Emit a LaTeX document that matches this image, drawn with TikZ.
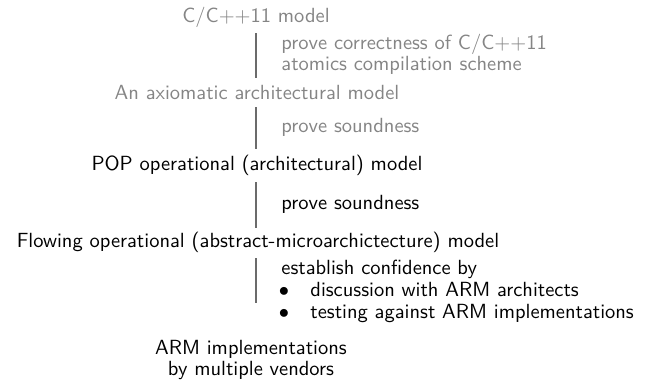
\documentclass[tikz,border=0pt]{standalone}
\usepackage{tikz}
\usetikzlibrary{calc}
\definecolor{fadedgray}{gray}{0.52}
\definecolor{stemgray}{gray}{0.42}

\begin{document}
\begin{tikzpicture}[x=0.488pt, y=-0.488pt,
        every node/.style={font=\sffamily\fontsize{10}{9.8}\selectfont, inner sep=0pt},
        model/.style={anchor=base},
        note/.style={anchor=base west},
        dot/.style={anchor=base, text height=1.2ex, text depth=0pt},
        link/.style={draw=stemgray, line width=0.8pt}]
        \useasboundingbox (0,0) rectangle (651,381);
        % Models, top to bottom (two-line nodes sit on their last line)
        \node[model, text=fadedgray] (cpp) at (256,22) {C/C++11 model};
        \node[model, text=fadedgray] (axm) at (257,99) {An axiomatic architectural model};
        \node[model] (pop) at (257,170) {POP operational (architectural) model};
        \node[model] (flow) at (258,247) {Flowing operational (abstract-microarchictecture) model};
        \node[model, align=center] (arm) at (251,375) {ARM implementations\\by multiple vendors};
        % Steps between them
        \node[note, text=fadedgray, align=left] (corr) at (281,70) {prove correctness of C/C++11\\atomics compilation scheme};
        \node[note, text=fadedgray] (snd1) at (281,132) {prove soundness};
        \node[note] (snd2) at (281,209) {prove soundness};
        \node[note] (conf) at (281,274) {establish confidence by};
        \node[dot] (b1) at (284,296) {$\bullet$};
        \node[note] (disc) at (310,296) {discussion with ARM architects};
        \node[dot] (b2) at (284,318) {$\bullet$};
        \node[note] (test) at (310,318) {testing against ARM implementations};
        % Stems
        \draw[link] ($(cpp.base)+(0,11)$) -- ($(axm.base)+(-1,-21)$);
        \draw[link] ($(axm.base)+(-1,8)$) -- ($(pop.base)+(-1,-21)$);
        \draw[link] ($(pop.base)+(-1,12)$) -- ($(flow.base)+(-2,-19)$);
        \draw[link] ($(flow.base)+(-2,11)$) -- ($(arm.base)+(5,-72)$);
    \end{tikzpicture}
\end{document}
